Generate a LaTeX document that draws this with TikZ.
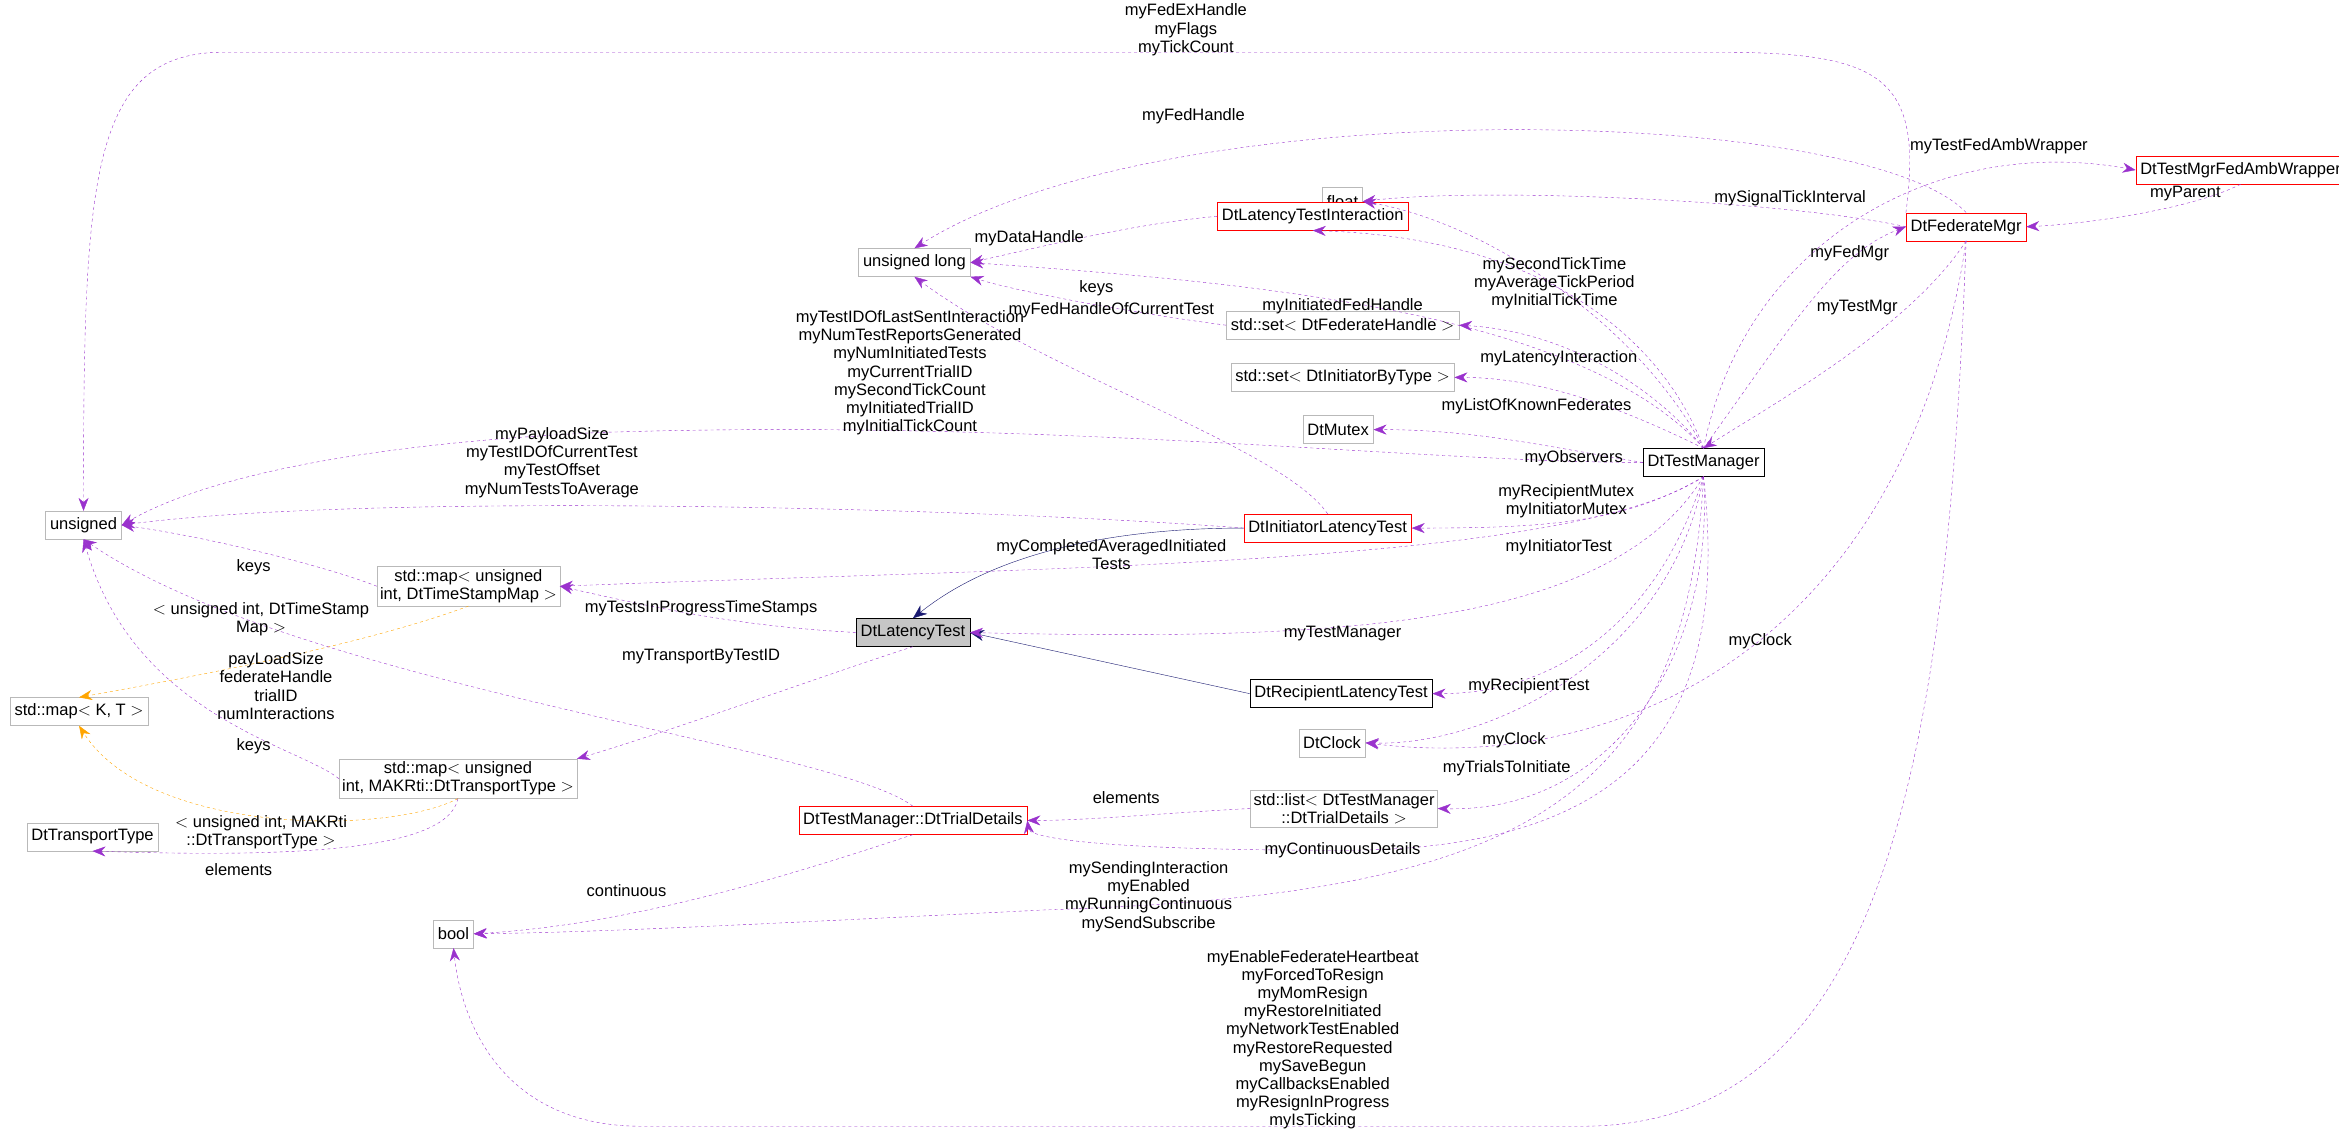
\documentclass[tikz,border=0pt]{standalone}
\usepackage{fontspec}
\setmainfont{Liberation Sans}
\usetikzlibrary{arrows.meta}
\definecolor{memcol}{RGB}{154,50,205}
\definecolor{tplcol}{RGB}{255,165,0}
\definecolor{inhcol}{RGB}{25,25,112}
\begin{document}
\begin{tikzpicture}[x=1.4917pt,y=-1.4917pt,
  every node/.style={font=\fontsize{16.5}{18}\selectfont},
  cls/.style={draw=gray!55,fill=white,inner sep=4.5pt,minimum height=28pt,align=center},
  redcls/.style={cls,draw=red},
  blkcls/.style={cls,draw=black},
  mem/.style={draw=memcol,dashed,-{Stealth[length=13pt,width=10pt]}},
  tpl/.style={draw=tplcol,dashed,-{Stealth[length=13pt,width=10pt]}},
  inh/.style={draw=inhcol,-{Stealth[length=14pt,width=11pt]}},
  lbl/.style={align=center,inner sep=0pt,font=\fontsize{16.5}{18.2}\selectfont}]
\useasboundingbox (0,0) rectangle (1568,762);

% classes
\node [cls] (uns) at (56,352) {unsigned};
\node [cls] (mapkt) at (53,477) {std::map$<$ K, T $>$};
\node [cls] (ttype) at (62,561) {DtTransportType};
\node [cls] (bool) at (304,626) {bool};
\node [cls] (flt) at (900,135) {float};
\node [cls] (ulong) at (613,176) {unsigned long};
\node [redcls] (lti) at (880,145) {DtLatencyTestInteraction};
\node [cls] (setfed) at (900,218) {std::set$<$ DtFederateHandle $>$};
\node [cls] (setini) at (900,253) {std::set$<$ DtInitiatorByType $>$};
\node [cls] (mutex) at (897,288) {DtMutex};
\node [blkcls] (tmgr) at (1142,310) {DtTestManager};
\node [redcls] (ilt) at (890,354) {DtInitiatorLatencyTest};
\node [cls,inner sep=3pt] (mapts) at (314,393) {std::map$<$ unsigned\\ int, DtTimeStampMap $>$};
\node [cls,fill=gray!45,draw=black] (lt) at (612,424) {DtLatencyTest};
\node [blkcls] (rlt) at (899,465) {DtRecipientLatencyTest};
\node [cls] (clk) at (893,498) {DtClock};
\node [cls,inner sep=3pt] (maptr) at (307,522) {std::map$<$ unsigned\\ int, MAKRti::DtTransportType $>$};
\node [cls,inner sep=3pt] (lst) at (901,542) {std::list$<$ DtTestManager\\ ::DtTrialDetails $>$};
\node [redcls] (trial) at (612,550) {DtTestManager::DtTrialDetails};
\node [redcls] (fmgr) at (1318,152) {DtFederateMgr};
\node [redcls] (wrap) at (1502,114) {DtTestMgrFedAmbWrapper};

% inheritance
\draw [inh] (ilt.west) .. controls (780,354) and (680,360) .. (lt.north);
\draw [inh] (rlt.west) -- (lt.east);

% members of DtFederateMgr
\draw [mem] (fmgr.north west) .. controls (1290,50) and (1260,35) .. (1150,35)
  -- (150,35) .. controls (60,35) and (56,120) .. (uns.north);
\draw [mem] (fmgr.north) .. controls (1250,70) and (780,60) .. (ulong.north);
\draw [mem] (fmgr.west) .. controls (1200,135) and (1000,125) .. (flt.east);
\draw [mem] (wrap.south) .. controls (1470,140) and (1400,150) .. (fmgr.east);
\draw [mem] (fmgr.south) .. controls (1280,220) and (1190,270) .. (tmgr.north);
\draw [mem] (fmgr.south) .. controls (1280,420) and (1100,520) .. (clk.east);
\draw [mem] (fmgr.south) .. controls (1305,520) and (1260,755) .. (1060,755)
  -- (430,755) .. controls (340,755) and (310,690) .. (bool.south);

% members of DtTestManager
\draw [mem] (tmgr.north) .. controls (1170,160) and (1300,90) .. (wrap.west);
\draw [mem] (tmgr.north) .. controls (1200,220) and (1230,170) .. (fmgr.west);
\draw [mem] (tmgr.north) .. controls (1100,220) and (1000,150) .. (flt.east);
\draw [mem] (tmgr.north) .. controls (1120,240) and (1050,160) .. (lti.south);
\draw [mem] (tmgr.north) .. controls (1060,210) and (850,190) .. (ulong.east);
\draw [mem] (tmgr.north) .. controls (1110,260) and (1050,222) .. (setfed.east);
\draw [mem] (tmgr.north) .. controls (1100,280) and (1040,253) .. (setini.east);
\draw [mem] (tmgr.west) .. controls (1040,300) and (990,288) .. (mutex.east);
\draw [mem] (tmgr.west) .. controls (950,310) and (700,280) .. (400,290)
  .. controls (200,300) and (120,330) .. (uns.east);
\draw [mem] (tmgr.south) .. controls (1090,350) and (1040,354) .. (ilt.east);
\draw [mem] (tmgr.south) .. controls (1050,380) and (700,380) .. (mapts.east);
\draw [mem] (tmgr.south) .. controls (1080,420) and (900,430) .. (lt.east);
\draw [mem] (tmgr.south) .. controls (1110,420) and (1040,465) .. (rlt.east);
\draw [mem] (tmgr.south) .. controls (1120,440) and (1000,500) .. (clk.east);
\draw [mem] (tmgr.south) .. controls (1150,440) and (1080,545) .. (lst.east);
\draw [mem] (tmgr.south) .. controls (1160,480) and (1100,570) .. (900,570)
  .. controls (720,570) and (690,560) .. (trial.east);
\draw [mem] (tmgr.south) .. controls (1130,550) and (1000,600) .. (700,610)
  .. controls (500,620) and (400,625) .. (bool.east);

% other members
\draw [mem] (lti.west) .. controls (760,150) and (700,165) .. (ulong.east);
\draw [mem] (setfed.west) .. controls (760,210) and (680,195) .. (ulong.south east);
\draw [mem] (ilt.north) .. controls (860,300) and (700,250) .. (ulong.south);
\draw [mem] (ilt.west) .. controls (650,340) and (250,330) .. (uns.east);
\draw [mem] (lt.west) .. controls (500,420) and (450,410) .. (mapts.east);
\draw [mem] (lt.south) .. controls (560,450) and (450,490) .. (maptr.north east);
\draw [mem] (mapts.west) .. controls (220,380) and (140,360) .. (uns.east);
\draw [tpl] (mapts.south) .. controls (250,430) and (150,450) .. (mapkt.north);
\draw [mem] (maptr.west) .. controls (200,500) and (90,480) .. (uns.south);
\draw [tpl] (maptr.south) .. controls (260,560) and (100,560) .. (mapkt.south);
\draw [mem] (maptr.south) .. controls (300,570) and (200,575) .. (ttype.south);
\draw [mem] (trial.north) .. controls (560,500) and (200,460) .. (uns.south);
\draw [mem] (trial.south) .. controls (520,590) and (420,620) .. (bool.east);
\draw [mem] (lst.west) .. controls (780,545) and (730,550) .. (trial.east);

% labels
\node [lbl] (l1) at (795,20) {myFedExHandle\\myFlags\\myTickCount};
\node [lbl] (l2) at (800,78) {myFedHandle};
\node [lbl] (l3) at (1200,133) {mySignalTickInterval};
\node [lbl] (l4) at (1340,98) {myTestFedAmbWrapper};
\node [lbl] (l5) at (1465,130) {myParent};
\node [lbl] (l6) at (1240,170) {myFedMgr};
\node [lbl] (l7) at (1245,206) {myTestMgr};
\node [lbl] (l8) at (1042,190) {mySecondTickTime\\myAverageTickPeriod\\myInitialTickTime};
\node [lbl] (l9) at (1045,240) {myLatencyInteraction};
\node [lbl] (l10) at (900,205) {myInitiatedFedHandle};
\node [lbl] (l11) at (1030,272) {myListOfKnownFederates};
\node [lbl] (l12) at (1055,307) {myObservers};
\node [lbl] (l13) at (1050,336) {myRecipientMutex\\myInitiatorMutex};
\node [lbl] (l14) at (610,250) {myTestIDOfLastSentInteraction\\myNumTestReportsGenerated\\myNumInitiatedTests\\myCurrentTrialID\\mySecondTickCount\\myInitiatedTrialID\\myInitialTickCount};
\node [lbl] (l15) at (1045,367) {myInitiatorTest};
\node [lbl] (l16) at (745,372) {myCompletedAveragedInitiated\\Tests};
\node [lbl] (l17) at (900,425) {myTestManager};
\node [lbl] (l18) at (1025,460) {myRecipientTest};
\node [lbl] (l19) at (1015,496) {myClock};
\node [lbl] (l20) at (1180,430) {myClock};
\node [lbl] (l21) at (1010,515) {myTrialsToInitiate};
\node [lbl] (l22) at (900,570) {myContinuousDetails};
\node [lbl] (l23) at (770,601) {mySendingInteraction\\myEnabled\\myRunningContinuous\\mySendSubscribe};
\node [lbl] (l24) at (880,702) {myEnableFederateHeartbeat\\myForcedToResign\\myMomResign\\myRestoreInitiated\\myNetworkTestEnabled\\myRestoreRequested\\mySaveBegun\\myCallbacksEnabled\\myResignInProgress\\myIsTicking\\...};
\node [lbl] (l25) at (690,160) {myDataHandle};
\node [lbl] (l26) at (735,193) {keys};
\node [lbl] (l27) at (745,208) {myFedHandleOfCurrentTest};
\node [lbl] (l28) at (370,310) {myPayloadSize\\myTestIDOfCurrentTest\\myTestOffset\\myNumTestsToAverage};
\node [lbl] (l29) at (470,408) {myTestsInProgressTimeStamps};
\node [lbl] (l30) at (470,440) {myTransportByTestID};
\node [lbl] (l31) at (170,380) {keys};
\node [lbl] (l32) at (175,415) {$<$ unsigned int, DtTimeStamp\\Map $>$};
\node [lbl] (l33) at (170,500) {keys};
\node [lbl] (l34) at (175,558) {$<$ unsigned int, MAKRti\\::DtTransportType $>$};
\node [lbl] (l35) at (160,583) {elements};
\node [lbl] (l36) at (185,460) {payLoadSize\\federateHandle\\trialID\\numInteractions};
\node [lbl] (l37) at (420,597) {continuous};
\node [lbl] (l38) at (755,535) {elements};
\end{tikzpicture}
\end{document}
